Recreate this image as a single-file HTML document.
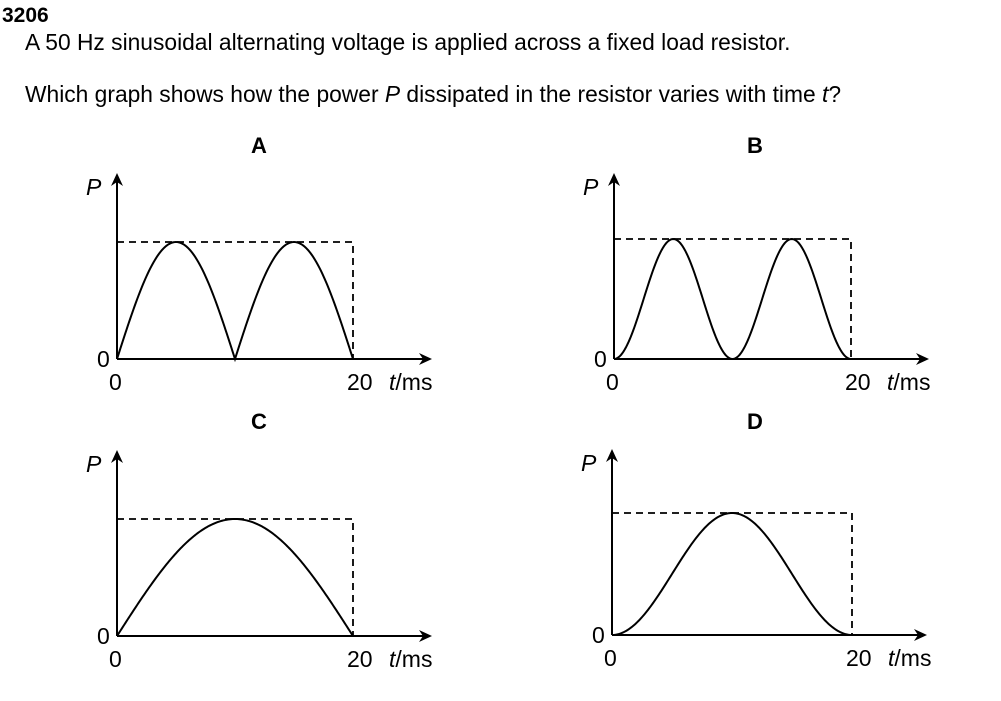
<!DOCTYPE html>
<html><head><meta charset="utf-8"><style>
body{margin:0;background:#fff;width:1001px;height:701px;overflow:hidden}
svg{position:absolute;left:0;top:0}
text{font-family:"Liberation Sans",Arial,sans-serif;fill:#000}
</style></head><body>
<svg id="s" width="1001" height="701" viewBox="0 0 1001 701">
<text x="2" y="22" font-size="21" font-weight="bold">3206</text>
<text x="25" y="50" font-size="22.8">A 50 Hz sinusoidal alternating voltage is applied across a fixed load resistor.</text>
<text x="25" y="102" font-size="22.8">Which graph shows how the power <tspan font-style="italic">P</tspan> dissipated in the resistor varies with time <tspan font-style="italic">t</tspan>?</text>
<text x="259" y="153" font-size="22" font-weight="bold" text-anchor="middle">A</text>
<text x="755" y="153" font-size="22" font-weight="bold" text-anchor="middle">B</text>
<text x="259" y="429" font-size="22" font-weight="bold" text-anchor="middle">C</text>
<text x="755" y="429" font-size="22" font-weight="bold" text-anchor="middle">D</text>
<g id="g"></g>
</svg>
<script>
var g=document.getElementById('g'),h='';
function graph(ox,oy,top,right,type){
 var ax=ox+315, ay=oy-186;
 h+='<line x1="'+ox+'" y1="'+oy+'" x2="'+ox+'" y2="'+(ay+6)+'" stroke="#000" stroke-width="2"/>';
 h+='<polygon points="'+(ox-6)+','+(ay+13)+' '+ox+','+ay+' '+(ox+6)+','+(ay+13)+' '+ox+','+(ay+9)+'" fill="#000"/>';
 h+='<line x1="'+ox+'" y1="'+oy+'" x2="'+(ax-6)+'" y2="'+oy+'" stroke="#000" stroke-width="2"/>';
 h+='<polygon points="'+(ax-13)+','+(oy-6)+' '+ax+','+oy+' '+(ax-13)+','+(oy+6)+' '+(ax-9)+','+oy+'" fill="#000"/>';
 h+='<path d="M'+ox+' '+top+'H'+right+'V'+oy+'" fill="none" stroke="#000" stroke-width="1.8" stroke-dasharray="7,5"/>';
 var W=right-ox,H=oy-top,p='';
 for(var i=0;i<=200;i++){var u=i/200,v;
  if(type==0)v=Math.abs(Math.sin(2*Math.PI*u));
  else if(type==1)v=Math.pow(Math.sin(2*Math.PI*u),2);
  else if(type==2)v=Math.sin(Math.PI*u);
  else v=Math.pow(Math.sin(Math.PI*u),2);
  p+=(i?'L':'M')+(ox+u*W).toFixed(2)+' '+(oy-v*H).toFixed(2);}
 h+='<path d="'+p+'" fill="none" stroke="#000" stroke-width="2"/>';
 h+='<text x="'+(ox-31)+'" y="'+(ay+22)+'" font-size="23" font-style="italic">P</text>';
 h+='<text x="'+(ox-20)+'" y="'+(oy+8)+'" font-size="23">0</text>';
 h+='<text x="'+(ox-8)+'" y="'+(oy+31)+'" font-size="23">0</text>';
 h+='<text x="'+(right-6)+'" y="'+(oy+31)+'" font-size="23">20</text>';
 h+='<text x="'+(right+36)+'" y="'+(oy+31)+'" font-size="23"><tspan font-style="italic">t</tspan>/ms</text>';
}
graph(117,359,242,353,0);
graph(614,359,239,851,1);
graph(117,636,519,353,2);
graph(612,635,513,852,3);
g.innerHTML=h;
</script>
</body></html>
